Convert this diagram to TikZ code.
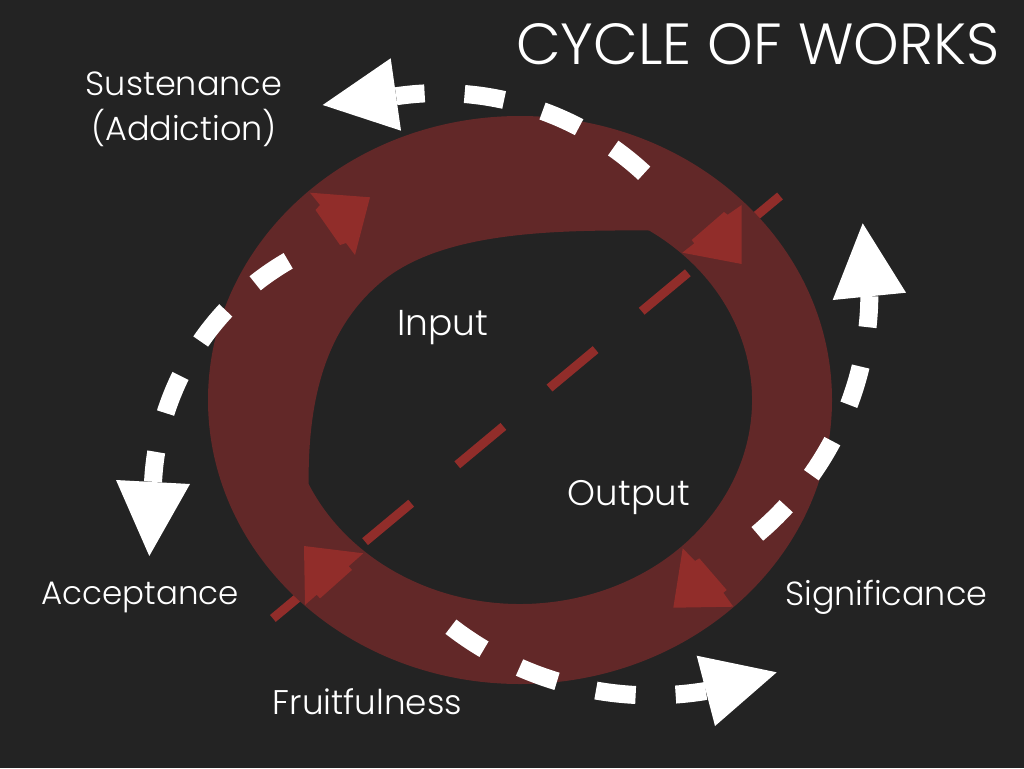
\documentclass[tikz,border=0pt]{standalone}
\usepackage{fontspec}
\IfFontExistsTF{Poppins Light}{\setmainfont{Poppins Light}}{\setmainfont{Poppins}}
\usepackage{tikz}
\definecolor{bgdark}{HTML}{232323}
\definecolor{ringred}{HTML}{622828}
\definecolor{arrowred}{HTML}{912D2A}

\begin{document}
\begin{tikzpicture}[x=1pt,y=-1pt,
  lbl/.style={text=white,font=\fontsize{#1}{45}\selectfont,align=center,anchor=base},
  lbl/.default=36,
  wdash/.style={draw=white,line width=18pt,dash pattern=on 40pt off 40pt},
  whead/.style={fill=white},
  rhead/.style={fill=arrowred}]
%background
\fill[bgdark] (0,0) rectangle (1024,768);
\useasboundingbox (0,0) rectangle (1024,768);
%diagonal line
\draw[arrowred,line width=9pt,dash pattern=on 60pt off 60pt] (780,196)--(271,620);
%ring
\fill[ringred,even odd rule] (520,400) ellipse [x radius=312,y radius=284]
  (649.1,230.5) arc [start angle=-56.2,end angle=155.7,x radius=232,y radius=204]
  .. controls (308,400) and (325,330) .. (380,283)
  .. controls (440,232) and (550,230) .. (649.1,230.5) -- cycle;
%red heads on the ring
\fill[rhead] (310,192.7)--(370,197.3)--(355,255)--(346,243)--(340,245)--(315.5,210)--(320,205)--cycle;
\fill[rhead] (682.3,252.7)--(694.3,243.3)--(691.7,240)--(724,212)--(727.7,214.7)--(741.7,205)--(741.7,264)--cycle;
\fill[rhead] (682.7,548.3)--(695,561)--(699.3,558.3)--(726.7,590)--(723.3,592.7)--(733.3,606.7)--(673.3,607.7)--cycle;
\fill[rhead] (304,546)--(363.3,553.3)--(348.7,566.2)--(352,569.9)--(320,598.4)--(316.7,594.7)--(305,605)--cycle;
%white dashed arcs
\draw[wdash] (440,393) ++(-47.1:300) arc [start angle=-47.1,end angle=-98.4,radius=300];
\fill[whead] (322.7,105)--(390.7,58.3)--(401,130.7)--cycle;
\draw[wdash] (423.7,495.5) ++(-120:271) arc [start angle=-120,end angle=-177.1,radius=271];
\fill[whead] (149.3,556)--(116,480)--(190,484)--cycle;
\draw[wdash] (652.1,366.4) ++(127.7:329) arc [start angle=127.7,end angle=80.6,radius=329];
\fill[whead] (776.7,672.3)--(696.7,655.7)--(715,726)--cycle;
\draw[wdash] (554.4,292.9) ++(49.9:315) arc [start angle=49.9,end angle=0.6,radius=315];
\fill[whead] (862.7,223.3)--(832.7,300)--(906,292.7)--cycle;
%labels
\node[lbl=58] (title) at (757.8,64) {CYCLE OF WORKS};
\node[lbl=33.5] (sust) at (184,140) {Sustenance\\(Addiction)};
\node[lbl] (input) at (442.5,335) {Input};
\node[lbl=35.5] (output) at (629,505.5) {Output};
\node[lbl=32.5] (accept) at (140.3,604) {Acceptance};
\node[lbl=34.2] (fruit) at (367.5,714) {Fruitfulness};
\node[lbl=33.4] (signif) at (886.3,605) {Significance};
\end{tikzpicture}
\end{document}
